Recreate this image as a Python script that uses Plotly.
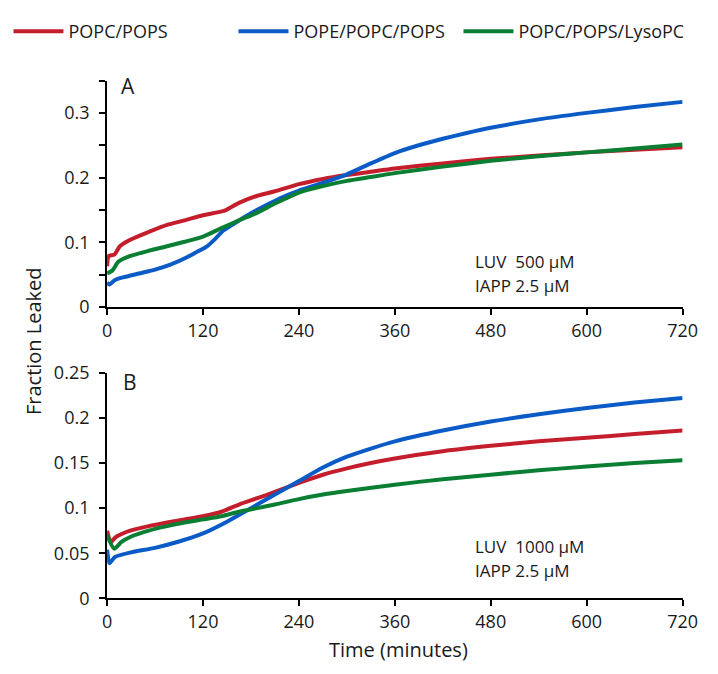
import plotly.graph_objects as go

# ---------------- data ----------------
series_names = ["POPC/POPS", "POPE/POPC/POPS", "POPC/POPS/LysoPC"]
series_colors = ["#C41E2C", "#0B5BC6", "#0A7F33"]

# Panel A (LUV 500 uM)
a_red_t = [0, 2, 9, 16, 29, 52, 75, 97, 120, 147, 165, 188, 210, 240, 270, 300, 330, 360, 420, 480, 540, 600, 660, 720]
a_red_v = [0.063, 0.079, 0.081, 0.094, 0.104, 0.116, 0.127, 0.134, 0.142, 0.149, 0.161, 0.172, 0.179, 0.19, 0.198, 0.204, 0.209, 0.214, 0.222, 0.229, 0.234, 0.239, 0.243, 0.247]
a_blue_t = [0, 3, 10, 20, 40, 60, 80, 100, 115, 125, 135, 145, 160, 180, 200, 220, 240, 260, 280, 300, 330, 360, 390, 420, 450, 480, 540, 600, 660, 720]
a_blue_v = [0.038, 0.035, 0.042, 0.046, 0.052, 0.058, 0.066, 0.077, 0.087, 0.094, 0.105, 0.118, 0.13, 0.145, 0.158, 0.17, 0.18, 0.188, 0.196, 0.205, 0.222, 0.238, 0.25, 0.26, 0.269, 0.277, 0.29, 0.3, 0.309, 0.317]
a_green_t = [0, 7, 14, 29, 52, 75, 97, 120, 143, 165, 188, 210, 240, 270, 300, 330, 360, 420, 480, 540, 600, 660, 720]
a_green_v = [0.052, 0.057, 0.07, 0.079, 0.087, 0.094, 0.101, 0.109, 0.122, 0.134, 0.146, 0.16, 0.177, 0.187, 0.195, 0.201, 0.207, 0.217, 0.226, 0.233, 0.239, 0.245, 0.251]

# Panel B (LUV 1000 uM)
b_red_t = [0, 4.5, 11, 29, 52, 75, 97, 120, 143, 165, 188, 210, 240, 270, 300, 330, 360, 420, 480, 540, 600, 660, 720]
b_red_v = [0.075, 0.0625, 0.068, 0.075, 0.08, 0.084, 0.0875, 0.091, 0.096, 0.104, 0.111, 0.118, 0.128, 0.137, 0.144, 0.15, 0.155, 0.163, 0.169, 0.174, 0.178, 0.182, 0.186]
b_blue_t = [0, 3, 10, 30, 60, 90, 120, 150, 180, 210, 240, 270, 300, 330, 360, 420, 480, 540, 600, 660, 720]
b_blue_v = [0.054, 0.039, 0.046, 0.051, 0.056, 0.063, 0.072, 0.085, 0.1, 0.115, 0.13, 0.145, 0.157, 0.166, 0.174, 0.186, 0.196, 0.204, 0.211, 0.217, 0.222]
b_green_t = [0, 9, 18, 29, 52, 75, 97, 120, 143, 165, 188, 210, 240, 270, 300, 360, 420, 480, 540, 600, 660, 720]
b_green_v = [0.07, 0.055, 0.0625, 0.068, 0.075, 0.08, 0.084, 0.0875, 0.091, 0.096, 0.1, 0.104, 0.11, 0.115, 0.119, 0.126, 0.132, 0.137, 0.142, 0.146, 0.15, 0.153]

x_ticks = [0, 120, 240, 360, 480, 600, 720]
a_yticks = [0, 0.05, 0.1, 0.15, 0.2, 0.25, 0.3, 0.35]
a_ylabels = ["0", "", "0.1", "", "0.2", "", "0.3", ""]
b_yticks = [0, 0.05, 0.1, 0.15, 0.2, 0.25]
b_ylabels = ["0", "0.05", "0.1", "0.15", "0.2", "0.25"]

FONT = "Open Sans"
TXT = "#1a1a1a"

fig = go.Figure()
panelA = [(a_red_t, a_red_v), (a_blue_t, a_blue_v), (a_green_t, a_green_v)]
panelB = [(b_red_t, b_red_v), (b_blue_t, b_blue_v), (b_green_t, b_green_v)]
for i, (t, v) in enumerate(panelA):
    fig.add_trace(go.Scatter(x=t, y=v, mode="lines", name=series_names[i],
                             line=dict(color=series_colors[i], width=4, shape="spline", smoothing=0.6),
                             xaxis="x", yaxis="y", showlegend=True))
for i, (t, v) in enumerate(panelB):
    fig.add_trace(go.Scatter(x=t, y=v, mode="lines", name=series_names[i],
                             line=dict(color=series_colors[i], width=4, shape="spline", smoothing=0.6),
                             xaxis="x2", yaxis="y2", showlegend=False))

W, H = 718, 674
xd = [105 / W, 697 / W]
ax_common = dict(showgrid=False, zeroline=False, showline=True, linecolor="black", linewidth=2,
                 ticks="outside", ticklen=6, tickwidth=1.5, tickcolor="black",
                 tickfont=dict(family=FONT, size=18, color=TXT))
y_extra = dict(ticklabelstandoff=6)
fig.update_layout(
    width=W, height=H, margin=dict(l=0, r=0, t=0, b=0),
    paper_bgcolor="white", plot_bgcolor="white",
    font=dict(family=FONT, color=TXT),
    xaxis=dict(domain=xd, range=[0, 720], tickvals=x_ticks, anchor="y", **ax_common),
    yaxis=dict(domain=[1 - 305 / H, 1 - 70 / H], range=[0, 0.35], tickvals=a_yticks, ticktext=a_ylabels,
               anchor="x", **ax_common, **y_extra),
    xaxis2=dict(domain=xd, range=[0, 720], tickvals=x_ticks, anchor="y2", **ax_common),
    yaxis2=dict(domain=[1 - 607 / H, 1 - 373 / H], range=[0, 0.25], tickvals=b_yticks, ticktext=b_ylabels,
                anchor="x2", **ax_common, **y_extra),
    legend=dict(orientation="h", x=0.005, y=1.0, xanchor="left", yanchor="top",
                font=dict(family=FONT, size=18, color=TXT), itemwidth=50,
                entrywidth=160, entrywidthmode="pixels",
                bgcolor="rgba(0,0,0,0)", tracegroupgap=0),
)

def note(text, xref, yref, x, y, size, xanchor="center", angle=0):
    return dict(text=text, xref=xref, yref=yref, x=x, y=y, xanchor=xanchor, yanchor="middle",
                textangle=angle, showarrow=False, font=dict(family=FONT, size=size, color=TXT))

ann = [
    note("A", "x domain", "y domain", 0.037, 0.975, 21),
    note("B", "x2 domain", "y2 domain", 0.039, 0.957, 21),
    note("LUV  500 \u00b5M", "x domain", "y domain", 0.635, 0.2, 17, "left"),
    note("IAPP 2.5 \u00b5M", "x domain", "y domain", 0.635, 0.094, 17, "left"),
    note("LUV  1000 \u00b5M", "x2 domain", "y2 domain", 0.635, 0.23, 17, "left"),
    note("IAPP 2.5 \u00b5M", "x2 domain", "y2 domain", 0.635, 0.124, 17, "left"),
    note("Fraction Leaked", "paper", "paper", 30 / W, 1 - 340 / H, 20, "center", -90),
    note("Time (minutes)", "paper", "paper", 405 / W, 1 - 660 / H, 20),
]
fig.update_layout(annotations=ann)

fig.write_html("out.html")
